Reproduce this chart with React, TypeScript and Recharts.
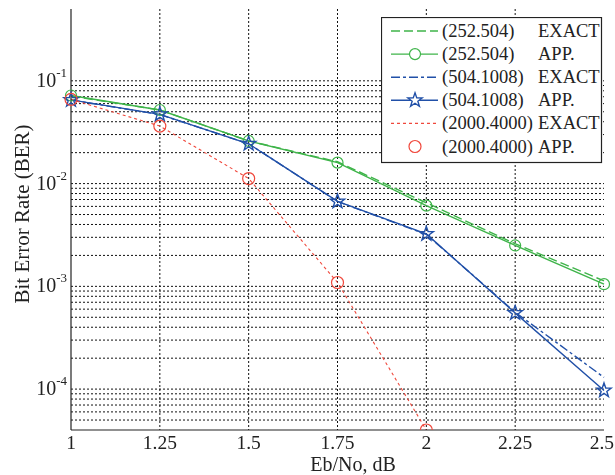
import React from "react";
import {
  LineChart,
  Line,
  XAxis,
  YAxis,
  CartesianGrid,
  Legend,
  Label,
} from "recharts";

const ebno = [1, 1.25, 1.5, 1.75, 2, 2.25, 2.5];

// (252.504)
const exact252 = [0.071, 0.052, 0.026, 0.0163, 0.0065, 0.0026, 0.00113];
const app252 = [0.072, 0.052, 0.026, 0.016, 0.0061, 0.0025, 0.00105];
// (504.1008)
const exact504 = [0.065, 0.047, 0.0244, 0.0067, 0.0032, 0.00056, 0.00013];
const app504 = [0.0652, 0.0472, 0.0244, 0.0067, 0.00324, 0.00055, 0.000097];
// (2000.4000)
const exact2000 = [0.066, 0.0363, 0.0112, 0.00109, 0.00004];
const app2000 = [0.066, 0.0363, 0.0112, 0.00109, 0.00004];

const xTicks = [1, 1.25, 1.5, 1.75, 2, 2.25, 2.5];
const yGrid = [
  0.1, 0.09, 0.08, 0.07, 0.06, 0.05, 0.04, 0.03, 0.02,
  0.01, 0.009, 0.008, 0.007, 0.006, 0.005, 0.004, 0.003, 0.002,
  0.001, 0.0009, 0.0008, 0.0007, 0.0006, 0.0005, 0.0004, 0.0003, 0.0002,
  0.0001, 0.00009, 0.00008, 0.00007, 0.00006, 0.00005,
];

const GREEN = "#3fb44a";
const BLUE = "#2150a8";
const RED = "#f0483c";
const FONT = "'Liberation Serif', 'Times New Roman', serif";
const serif = { fontFamily: FONT };

const data = ebno.map((x, i) => ({
  x,
  exact252: exact252[i],
  app252: app252[i],
  exact504: exact504[i],
  app504: app504[i],
  exact2000: exact2000[i],
  app2000: app2000[i],
}));

function starPath(cx: number, cy: number, R: number, r: number) {
  let d = "";
  for (let i = 0; i < 10; i++) {
    const a = -Math.PI / 2 + (i * Math.PI) / 5;
    const rad = i % 2 ? r : R;
    d += (i ? "L" : "M") + (cx + rad * Math.cos(a)).toFixed(2) + "," + (cy + rad * Math.sin(a)).toFixed(2);
  }
  return d + "Z";
}

const StarDot = (props: any) => {
  const { cx, cy, index } = props;
  if (cx == null || cy == null) return <g key={index} />;
  return (
    <path key={index} d={starPath(cx, cy, 7.5, 3)} fill="none" stroke={BLUE} strokeWidth={1.4} />
  );
};

const XTick = (props: any) => {
  const { x, y, payload } = props;
  const last = payload.value === 2.5;
  return (
    <text
      x={last ? 606 : x}
      y={y + 12.5}
      textAnchor={last ? "end" : "middle"}
      fontSize={19.5}
      fill="#222"
      style={serif}
    >
      {String(payload.value)}
    </text>
  );
};

const YTick = (props: any) => {
  const { x, y, payload } = props;
  const lg = Math.log10(payload.value);
  const e = Math.round(lg);
  if (Math.abs(lg - e) > 1e-6) return <g />;
  return (
    <text x={x} y={y + 6} textAnchor="end" fontSize={20} fill="#222" style={serif}>
      <tspan>10</tspan>
      <tspan dy={-10} fontSize={13}>{String(e)}</tspan>
    </text>
  );
};

const legendRows = [
  { name: "(252.504)", kind: "EXACT", color: GREEN, dash: "9 4", line: true, marker: "" },
  { name: "(252.504)", kind: "APP.", color: GREEN, dash: "", line: true, marker: "circle" },
  { name: "(504.1008)", kind: "EXACT", color: BLUE, dash: "9 3 3 3", line: true, marker: "" },
  { name: "(504.1008)", kind: "APP.", color: BLUE, dash: "", line: true, marker: "star" },
  { name: "(2000.4000)", kind: "EXACT", color: RED, dash: "3 3", line: true, marker: "" },
  { name: "(2000.4000)", kind: "APP.", color: RED, dash: "", line: false, marker: "circle" },
];

const LegendBox = () => (
  <svg width={222} height={147} style={{ display: "block" }}>
    <rect x={0.5} y={0.5} width={220} height={145} fill="#fff" stroke="#222" strokeWidth={1.2} />
    {legendRows.map((r, i) => {
      const y = 14 + i * 23.1;
      return (
        <g key={i}>
          {r.line && (
            <line x1={10} x2={57} y1={y} y2={y} stroke={r.color} strokeWidth={r.kind === "EXACT" && r.color === RED ? 1.1 : 1.4} strokeDasharray={r.dash || undefined} />
          )}
          {r.marker === "circle" && <circle cx={34} cy={y} r={r.color === RED ? 6 : 5.5} fill={r.line ? "#fff" : "none"} stroke={r.color} strokeWidth={1.2} />}
          {r.marker === "star" && <path d={starPath(34, y, 7.5, 3)} fill="#fff" stroke={BLUE} strokeWidth={1.4} />}
          <text x={61} y={y + 6} fontSize={18.5} fill="#222" style={serif}>{r.name}</text>
          <text x={157} y={y + 6} fontSize={18.5} fill="#222" style={serif}>{r.kind}</text>
        </g>
      );
    })}
  </svg>
);

export default function App() {
  return (
    <div style={{ position: "fixed", top: 8, left: 8, width: 607, height: 467 }}>
      <LineChart
        width={607}
        height={467}
        data={data}
        margin={{ top: 1, right: 11, left: 0, bottom: 0 }}
        style={serif}
      >
        <CartesianGrid
          stroke="#111"
          strokeDasharray="2 2"
          strokeWidth={1}
          horizontalValues={yGrid}
          verticalValues={[1.25, 1.5, 1.75, 2, 2.25]}
        />
        <XAxis
          dataKey="x"
          type="number"
          domain={[1, 2.5]}
          ticks={xTicks}
          interval={0}
          tickSize={0}
          tickMargin={6}
          axisLine={{ stroke: "#222", strokeWidth: 1.2 }}
          tick={<XTick />}
          height={45}
        >
          <Label
            content={() => (
              <text x={345} y={462.5} textAnchor="middle" fontSize={20} fill="#222" style={serif}>
                Eb/No, dB
              </text>
            )}
          />
        </XAxis>
        <XAxis
          xAxisId="top"
          orientation="top"
          dataKey="x"
          type="number"
          domain={[1, 2.5]}
          ticks={xTicks}
          height={0}
          tick={false}
          tickLine={false}
          axisLine={{ stroke: "#222", strokeWidth: 1.2 }}
        />
        <YAxis
          scale="log"
          domain={[0.00004, 0.5]}
          allowDataOverflow
          ticks={yGrid}
          interval={0}
          width={63}
          tickSize={0}
          tickMargin={4}
          tick={<YTick />}
          axisLine={{ stroke: "#222", strokeWidth: 1.2 }}
        >
          <Label
            content={() => (
              <text
                x={13.5}
                y={206}
                textAnchor="middle"
                dominantBaseline="central"
                transform="rotate(-90, 13.5, 206)"
                fontSize={21}
                fill="#222"
                style={serif}
              >
                Bit Error Rate (BER)
              </text>
            )}
          />
        </YAxis>
        <YAxis
          yAxisId="right"
          orientation="right"
          scale="log"
          domain={[0.00004, 0.5]}
          allowDataOverflow
          width={0}
          tick={false}
          tickLine={false}
          axisLine={{ stroke: "#222", strokeWidth: 1.2 }}
        />
        <Legend
          layout="horizontal"
          verticalAlign="middle"
          align="center"
          content={() => <LegendBox />}
          wrapperStyle={{ position: "absolute", top: 9, left: 373, width: 222, height: 147 }}
        />
        <Line type="linear" dataKey="exact252" stroke={GREEN} strokeWidth={1.4} strokeDasharray="9 4" dot={false} isAnimationActive={false} />
        <Line type="linear" dataKey="app252" stroke={GREEN} strokeWidth={1.4} dot={{ r: 5.5, fill: "none", stroke: GREEN, strokeWidth: 1.2 }} isAnimationActive={false} />
        <Line type="linear" dataKey="exact504" stroke={BLUE} strokeWidth={1.4} strokeDasharray="9 3 3 3" dot={false} isAnimationActive={false} />
        <Line type="linear" dataKey="app504" stroke={BLUE} strokeWidth={1.4} dot={<StarDot />} isAnimationActive={false} />
        <Line type="linear" dataKey="exact2000" stroke={RED} strokeWidth={1.1} strokeDasharray="3 3" dot={false} isAnimationActive={false} />
        <Line type="linear" dataKey="app2000" stroke="none" dot={{ r: 6, fill: "none", stroke: RED, strokeWidth: 1.2 }} isAnimationActive={false} />
      </LineChart>
    </div>
  );
}
